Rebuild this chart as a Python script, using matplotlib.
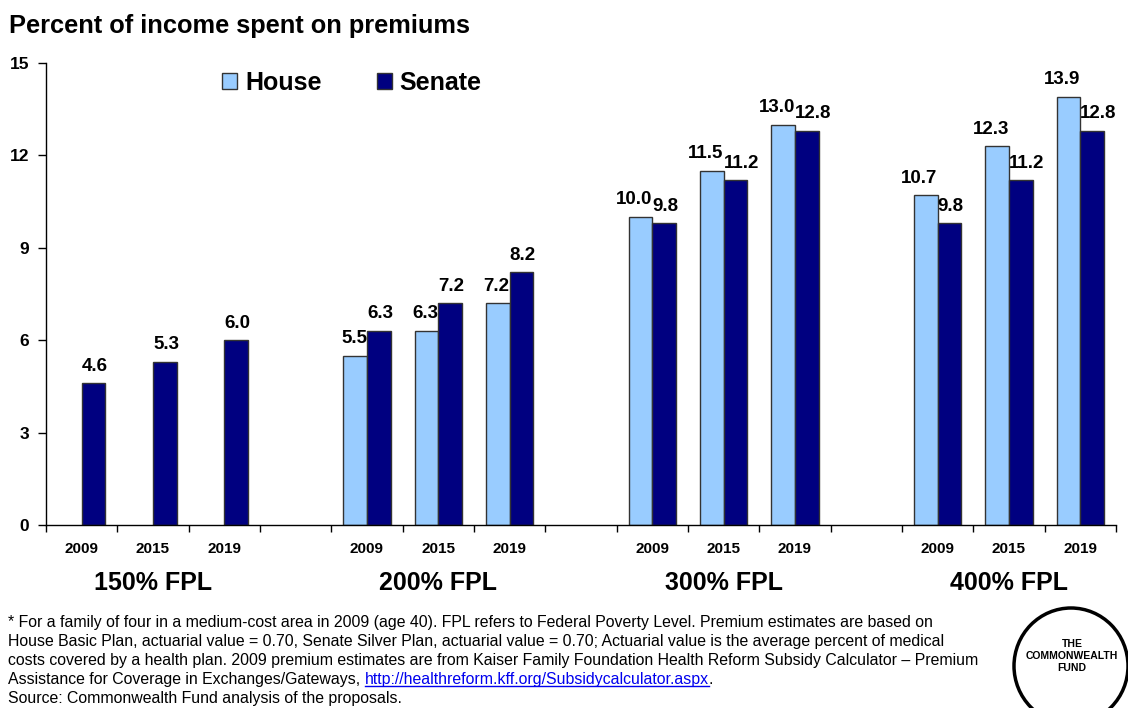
import matplotlib
matplotlib.use('Agg')
import matplotlib.pyplot as plt
from matplotlib.patches import Ellipse, Patch
from matplotlib.lines import Line2D
import numpy as np

# ---------------- data ----------------
groups = ['150% FPL', '200% FPL', '300% FPL', '400% FPL']
years = ['2009', '2015', '2019']
house = [None, None, None, 5.5, 6.3, 7.2, 10.0, 11.5, 13.0, 10.7, 12.3, 13.9]
senate = [4.6, 5.3, 6.0, 6.3, 7.2, 8.2, 9.8, 11.2, 12.8, 9.8, 11.2, 12.8]
series_names = ['House', 'Senate']
yticks = [0, 3, 6, 9, 12, 15]
title = 'Percent of income spent on premiums'
foot_lines = [
    '* For a family of four in a medium-cost area in 2009 (age 40). FPL refers to Federal Poverty Level. Premium estimates are based on',
    'House Basic Plan, actuarial value = 0.70, Senate Silver Plan, actuarial value = 0.70; Actuarial value is the average percent of medical',
    'costs covered by a health plan. 2009 premium estimates are from Kaiser Family Foundation Health Reform Subsidy Calculator \u2013 Premium',
    'Assistance for Coverage in Exchanges/Gateways,',
    'Source: Commonwealth Fund analysis of the proposals.',
]
link_text = 'http://healthreform.kff.org/Subsidycalculator.aspx'
logo_text = 'THE\nCOMMONWEALTH\nFUND'

house_color = '#99CCFF'
senate_color = '#000080'
edge_color = '#333333'

plt.rcParams['font.family'] = ['Liberation Sans', 'DejaVu Sans']

W, H = 1128, 708
fig = plt.figure(figsize=(W / 100, H / 100), dpi=100)
ax = fig.add_axes([46 / W, (H - 525) / H, 1070 / W, 462 / H])

# positions: 3 years per group, one empty slot between groups
slot = len(years) + 1
pos = np.array([g * slot + j for g in range(len(groups)) for j in range(len(years))], dtype=float)
n_slots = len(groups) * slot - 1
bw = 1 / 3

for i, p in enumerate(pos):
    if house[i] is not None:
        ax.bar(p - bw / 2, house[i], bw, color=house_color, edgecolor=edge_color, linewidth=1, zorder=2)
        ax.annotate(f'{house[i]:.1f}', xy=(p, house[i]), xytext=(0, 9), textcoords='offset points',
                    ha='right', va='baseline', fontsize=13.5, fontweight='bold')
    ax.bar(p + bw / 2, senate[i], bw, color=senate_color, edgecolor=edge_color, linewidth=1, zorder=2)
    ax.annotate(f'{senate[i]:.1f}', xy=(p, senate[i]), xytext=(0, 9), textcoords='offset points',
                ha='left', va='baseline', fontsize=13.5, fontweight='bold')

ax.set_xlim(-0.5, n_slots - 0.5)
ax.set_ylim(0, 15)
ax.set_yticks(yticks)
ax.set_yticklabels([str(v) for v in yticks], fontsize=12.5, fontweight='bold')
ax.tick_params(axis='y', length=6, width=1, direction='out', pad=6)

ax.set_xticks(pos)
ax.set_xticklabels(years * len(groups), fontsize=11, fontweight='bold')
ax.tick_params(axis='x', which='major', length=0, pad=12)
ax.set_xticks(np.arange(-0.5, n_slots, 1.0), minor=True)
ax.tick_params(axis='x', which='minor', length=5, width=1, direction='out')

for s in ['top', 'right']:
    ax.spines[s].set_visible(False)
for s in ['left', 'bottom']:
    ax.spines[s].set_linewidth(1)
    ax.spines[s].set_color('black')

for g, name in enumerate(groups):
    ax.annotate(name, xy=(g * slot + (len(years) - 1) / 2, 0), xycoords=('data', 'axes fraction'),
                xytext=(0, -41.5), textcoords='offset points', ha='center', va='center',
                fontsize=18, fontweight='bold')

# legend
handles = [Patch(facecolor=house_color, edgecolor=edge_color), Patch(facecolor=senate_color, edgecolor=edge_color)]
fig.legend(handles, series_names, loc='center left', bbox_to_anchor=(222 / W, 1 - 83 / H),
           bbox_transform=fig.transFigure, ncol=2, frameon=False, borderpad=0, borderaxespad=0,
           handlelength=0.6, handleheight=0.6, handletextpad=0.32, columnspacing=2.2,
           prop={'size': 18, 'weight': 'bold'})

# title
fig.text(9 / W, 1 - 26 / H, title, fontsize=18.3, fontweight='bold', ha='left', va='center')

# footnote
foot_family = ['Liberation Sans Narrow', 'Liberation Sans', 'DejaVu Sans']
baselines = [627, 646, 665, 684, 703]
renderer = fig.canvas.get_renderer()
probe = fig.text(0, 0, foot_lines[2], fontsize=12, family=foot_family)
w0 = probe.get_window_extent(renderer).width
probe.remove()
foot_size = 12 * 972 / w0
texts = []
for line, b in zip(foot_lines, baselines):
    t = fig.text(8 / W, 1 - b / H, line, fontsize=foot_size, family=foot_family, ha='left', va='baseline')
    texts.append(t)
fig.canvas.draw()
bb = texts[3].get_window_extent(renderer)
space = foot_size * 100 / 72 * 0.28
lx = bb.x1 + space
lt = fig.text(lx / W, 1 - baselines[3] / H, link_text, fontsize=foot_size, family=foot_family,
              color='#0000EE', ha='left', va='baseline')
fig.canvas.draw()
lb = lt.get_window_extent(renderer)
uy = (H - baselines[3] - 2) / H
fig.add_artist(Line2D([lb.x0 / W, lb.x1 / W], [uy, uy], transform=fig.transFigure, color='#0000EE', lw=1))
fig.text(lb.x1 / W, 1 - baselines[3] / H, '.', fontsize=foot_size, family=foot_family, ha='left', va='baseline')

# logo
fig.add_artist(Ellipse((1071 / W, 1 - 666 / H), 114 / W, 116 / H, transform=fig.transFigure,
                       fill=False, edgecolor='black', linewidth=2.5))
fig.text(1072 / W, 1 - 656 / H, logo_text, fontsize=7.5, fontweight='bold', ha='center', va='center',
         linespacing=1.25)

fig.savefig('out.png', dpi=100)
